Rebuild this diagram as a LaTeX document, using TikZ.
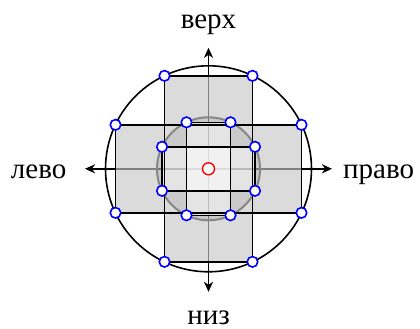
\documentclass[tikz,border=0pt]{standalone}
\usepackage{fontspec}
\setmainfont{Liberation Serif}
\usetikzlibrary{arrows.meta}
\begin{document}
\begin{tikzpicture}[x=1pt,y=-1pt,
  pt/.style={circle,draw=blue,fill=white,line width=1.6pt,minimum size=10.5pt,inner sep=0pt},
  ctr/.style={circle,draw=red,fill=white,line width=1.4pt,minimum size=12pt,inner sep=0pt},
  lbl/.style={font=\fontsize{29}{34}\selectfont,inner sep=0pt},
  axis/.style={line width=1.7pt,{Stealth[length=10pt,width=9pt,inset=3pt]}-{Stealth[length=10pt,width=9pt,inset=3pt]}},
  edge/.style={line width=1.6pt,black},
  crossfill/.style={fill=black!22,fill opacity=0.64},
  ringfill/.style={fill=black,fill opacity=0.08},
  innerfill/.style={fill=white,fill opacity=0.5},
  ringline/.style={draw=black!47,line width=2pt}]
\useasboundingbox (0,0) rectangle (420,329);
\begin{scope}[shift={(208.5,168.8)}]
  \coordinate (C) at (0,0);
  % axis ends
  \coordinate (AU) at (0,-121);
  \coordinate (AD) at (0,123);
  \coordinate (AL) at (-123.5,0);
  \coordinate (AR) at (123.5,0);
  % outer corners
  \coordinate (v1) at (-44,-93);
  \coordinate (v2) at (44,-93);
  \coordinate (v3) at (44,93);
  \coordinate (v4) at (-44,93);
  \coordinate (h1) at (-93,-44);
  \coordinate (h2) at (93,-44);
  \coordinate (h3) at (93,44);
  \coordinate (h4) at (-93,44);
  % inner corners
  \coordinate (iv1) at (-22,-46.5);
  \coordinate (iv2) at (22,-46.5);
  \coordinate (iv3) at (22,46.5);
  \coordinate (iv4) at (-22,46.5);
  \coordinate (ih1) at (-46.5,-22);
  \coordinate (ih2) at (46.5,-22);
  \coordinate (ih3) at (46.5,22);
  \coordinate (ih4) at (-46.5,22);
  % axes
  \draw[axis] (AL) -- (AR);
  \draw[axis] (AU) -- (AD);
  % fills
  \path[crossfill] (v1) rectangle (v3) (h1) rectangle (h3);
  \path[ringfill] (C) circle (51.5);
  \path[innerfill] (iv1) rectangle (iv3);
  \path[innerfill] (ih1) rectangle (ih3);
  % outlines
  \draw[ringline] (C) circle (51.5);
  \draw[edge] (C) circle (103);
  \draw[edge] (v1) rectangle (v3);
  \draw[edge] (h1) rectangle (h3);
  \draw[edge] (iv1) rectangle (iv3);
  \draw[edge] (ih1) rectangle (ih3);
  % points
  \foreach \p in {v1,v2,v3,v4,h1,h2,h3,h4,iv1,iv2,iv3,iv4,ih1,ih2,ih3,ih4}
    \node[pt] (n\p) at (\p) {};
  \node[ctr] (nC) at (C) {};
\end{scope}
\node[lbl,anchor=base] (top) at (208.5,28.3) {верх};
\node[lbl,anchor=base] (bottom) at (208.5,324) {низ};
\node[lbl,anchor=base east] (left) at (66.5,178.3) {лево};
\node[lbl,anchor=base west] (right) at (343,178.3) {право};
\end{tikzpicture}
\end{document}
